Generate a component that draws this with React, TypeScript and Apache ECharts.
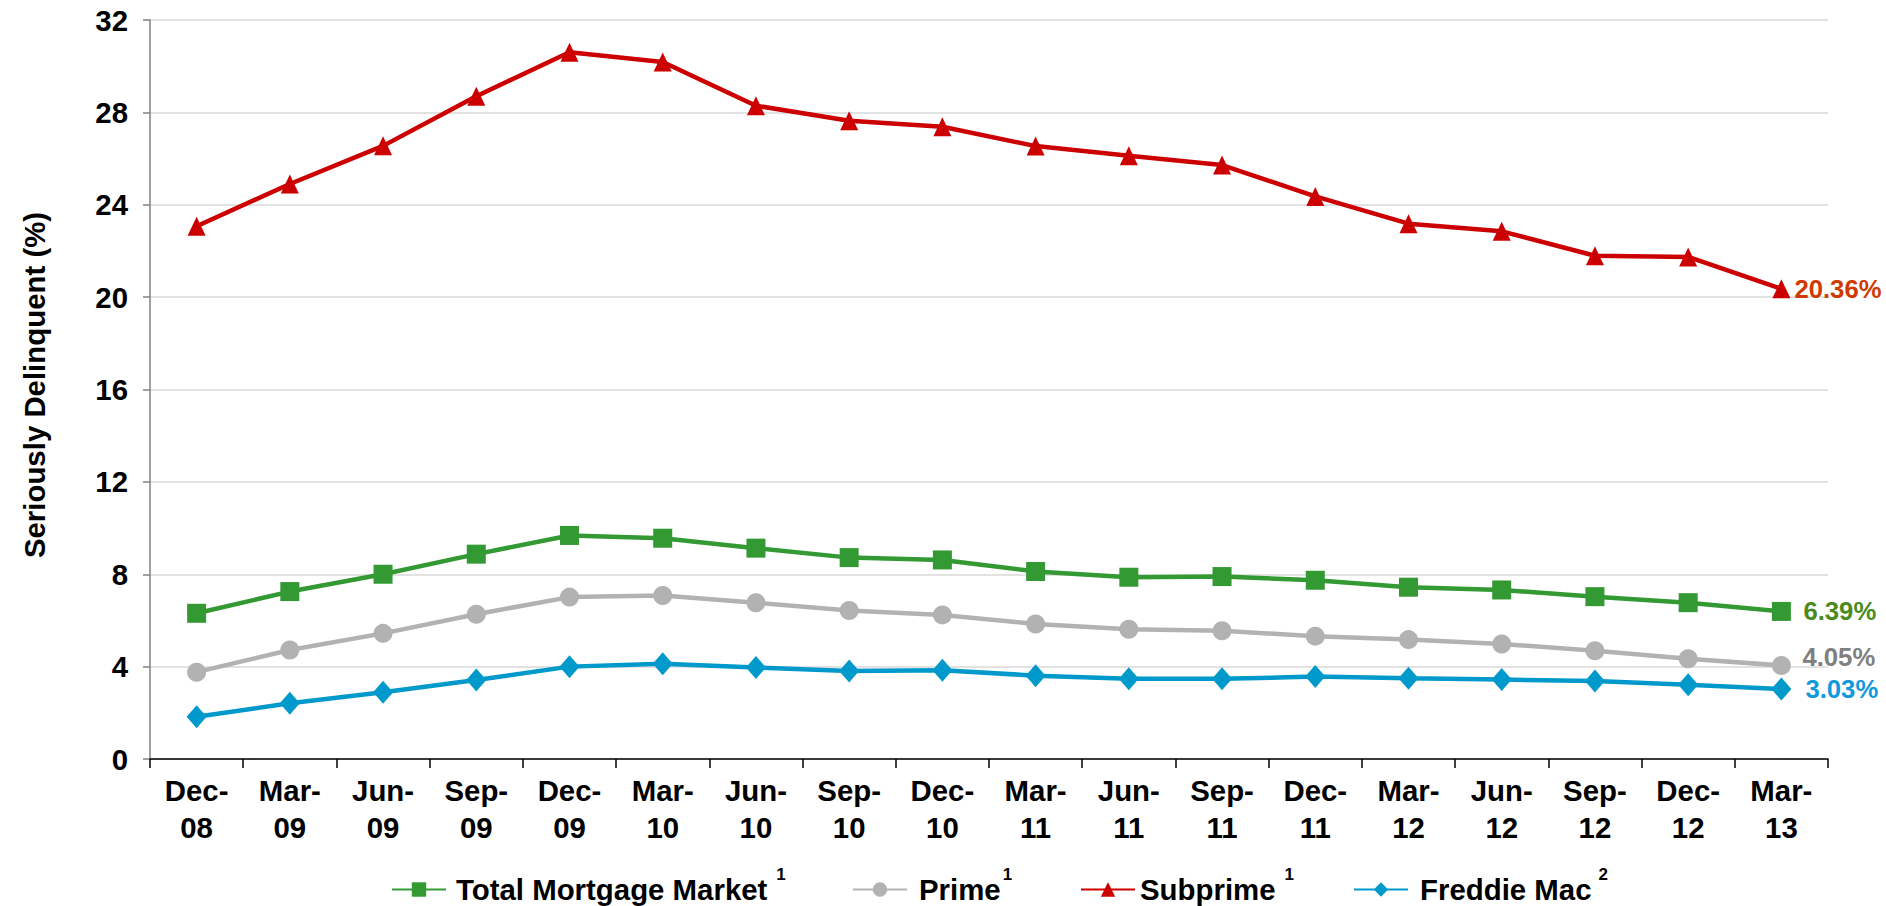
import React, { useEffect, useRef } from "react";
import * as echarts from "echarts";

const categories = [
  "Dec-08", "Mar-09", "Jun-09", "Sep-09", "Dec-09", "Mar-10", "Jun-10", "Sep-10", "Dec-10",
  "Mar-11", "Jun-11", "Sep-11", "Dec-11", "Mar-12", "Jun-12", "Sep-12", "Dec-12", "Mar-13",
];
const totalMarket = [6.31, 7.25, 8.0, 8.87, 9.68, 9.56, 9.13, 8.72, 8.62, 8.12, 7.87, 7.9, 7.74, 7.44, 7.32, 7.03, 6.77, 6.39];
const prime = [3.76, 4.72, 5.44, 6.27, 7.01, 7.08, 6.77, 6.43, 6.24, 5.85, 5.62, 5.55, 5.32, 5.17, 4.98, 4.69, 4.34, 4.05];
const subprime = [23.07, 24.9, 26.55, 28.7, 30.6, 30.18, 28.29, 27.64, 27.38, 26.54, 26.12, 25.72, 24.36, 23.18, 22.85, 21.79, 21.74, 20.36];
const freddieMac = [1.83, 2.41, 2.89, 3.42, 4.0, 4.12, 3.96, 3.81, 3.84, 3.61, 3.47, 3.47, 3.57, 3.5, 3.44, 3.38, 3.21, 3.03];
const seriesNames = ["Total Mortgage Market", "Prime", "Subprime", "Freddie Mac"];
const footnotes = ["1", "1", "1", "2"];
const yTicks = { min: 0, max: 32, interval: 4 };

const FONT = "'Liberation Sans', Arial, sans-serif";
const FS = 29.4;

export default function App() {
  const ref = useRef<HTMLDivElement>(null);
  useEffect(() => {
    document.body.style.margin = "0";
    const chart = echarts.init(ref.current!, null, { renderer: "svg" });
    const mkSeries = (
      name: string,
      data: number[],
      color: string,
      symbol: string,
      symbolSize: any,
      labelColor: string,
      distance: number,
      labelOffset: number[]
    ) => ({
      name,
      type: "line",
      data,
      color,
      symbol,
      symbolSize,
      showAllSymbol: true,
      lineStyle: { width: 4.5, color },
      itemStyle: { color },
      z: 3,
      endLabel: {
        show: true,
        formatter: (p: any) => Number(p.value).toFixed(2) + "%",
        color: labelColor,
        fontSize: 25.7,
        fontWeight: "bold",
        fontFamily: FONT,
        distance,
        offset: labelOffset,
      },
    });
    // legend layout per item: left, text padding, superscript gap
    const legendLeft = [386, 847, 1075, 1348];
    const legendTextPad = [5, 7, 0, 7];
    const supGap = [9, 2, 9, 7];
    const legends = seriesNames.map((name, i) => ({
      left: legendLeft[i],
      top: 861,
      itemWidth: 54,
      itemHeight: 18,
      data: [name],
      formatter: (n: string) => n + "{sup|" + footnotes[i] + "}",
      textStyle: {
        fontSize: FS,
        fontWeight: "bold",
        fontFamily: FONT,
        color: "#000",
        padding: [0, 0, 0, legendTextPad[i]],
        rich: {
          sup: {
            fontSize: 17,
            fontWeight: "bold",
            fontFamily: FONT,
            color: "#000",
            padding: [0, 0, 30, supGap[i]],
          },
        },
      },
    }));
    chart.setOption({
      animation: false,
      backgroundColor: "#ffffff",
      textStyle: { fontFamily: FONT },
      grid: { left: 150, right: 58, top: 20, bottom: 147, containLabel: false },
      graphic: [
        {
          type: "text",
          x: 34,
          y: 385,
          rotation: Math.PI / 2,
          style: {
            text: "Seriously Delinquent (%)",
            fontSize: FS,
            fontWeight: "bold",
            fontFamily: FONT,
            fill: "#000",
            align: "center",
            verticalAlign: "middle",
          },
        },
      ],
      legend: legends,
      xAxis: {
        type: "category",
        data: categories,
        boundaryGap: true,
        axisLine: { show: true, lineStyle: { color: "#000", width: 1.5 } },
        axisTick: { show: true, length: 9, lineStyle: { color: "#000", width: 1.5 } },
        axisLabel: {
          interval: 0,
          fontSize: FS,
          fontWeight: "bold",
          color: "#000",
          fontFamily: FONT,
          lineHeight: 37,
          margin: 13,
          formatter: (v: string) => v.replace("-", "-\n"),
        },
        splitLine: { show: false },
      },
      yAxis: {
        type: "value",
        min: yTicks.min,
        max: yTicks.max,
        interval: yTicks.interval,
        axisLine: { show: true, lineStyle: { color: "#808080", width: 1.5 } },
        axisTick: { show: true, length: 7, lineStyle: { color: "#808080", width: 1.5 } },
        axisLabel: {
          fontSize: FS,
          fontWeight: "bold",
          color: "#000",
          fontFamily: FONT,
          margin: 22,
        },
        splitLine: { show: true, lineStyle: { color: "#D9D9D9", width: 1.5 } },
      },
      series: [
        mkSeries(seriesNames[0], totalMarket, "#339933", "rect", 19, "#4A8C1C", 22, [0, 0]),
        mkSeries(seriesNames[1], prime, "#B2B2B2", "circle", 19, "#808080", 21, [0, -8]),
        mkSeries(seriesNames[2], subprime, "#CC0000", "triangle", [18, 19], "#D03A00", 13, [0, 0]),
        mkSeries(seriesNames[3], freddieMac, "#0099CC", "diamond", [20, 23], "#1199DD", 24, [0, 0]),
      ],
    });
    return () => chart.dispose();
  }, []);
  return <div ref={ref} style={{ position: "fixed", left: 0, top: 0, width: 1886, height: 906 }} />;
}
